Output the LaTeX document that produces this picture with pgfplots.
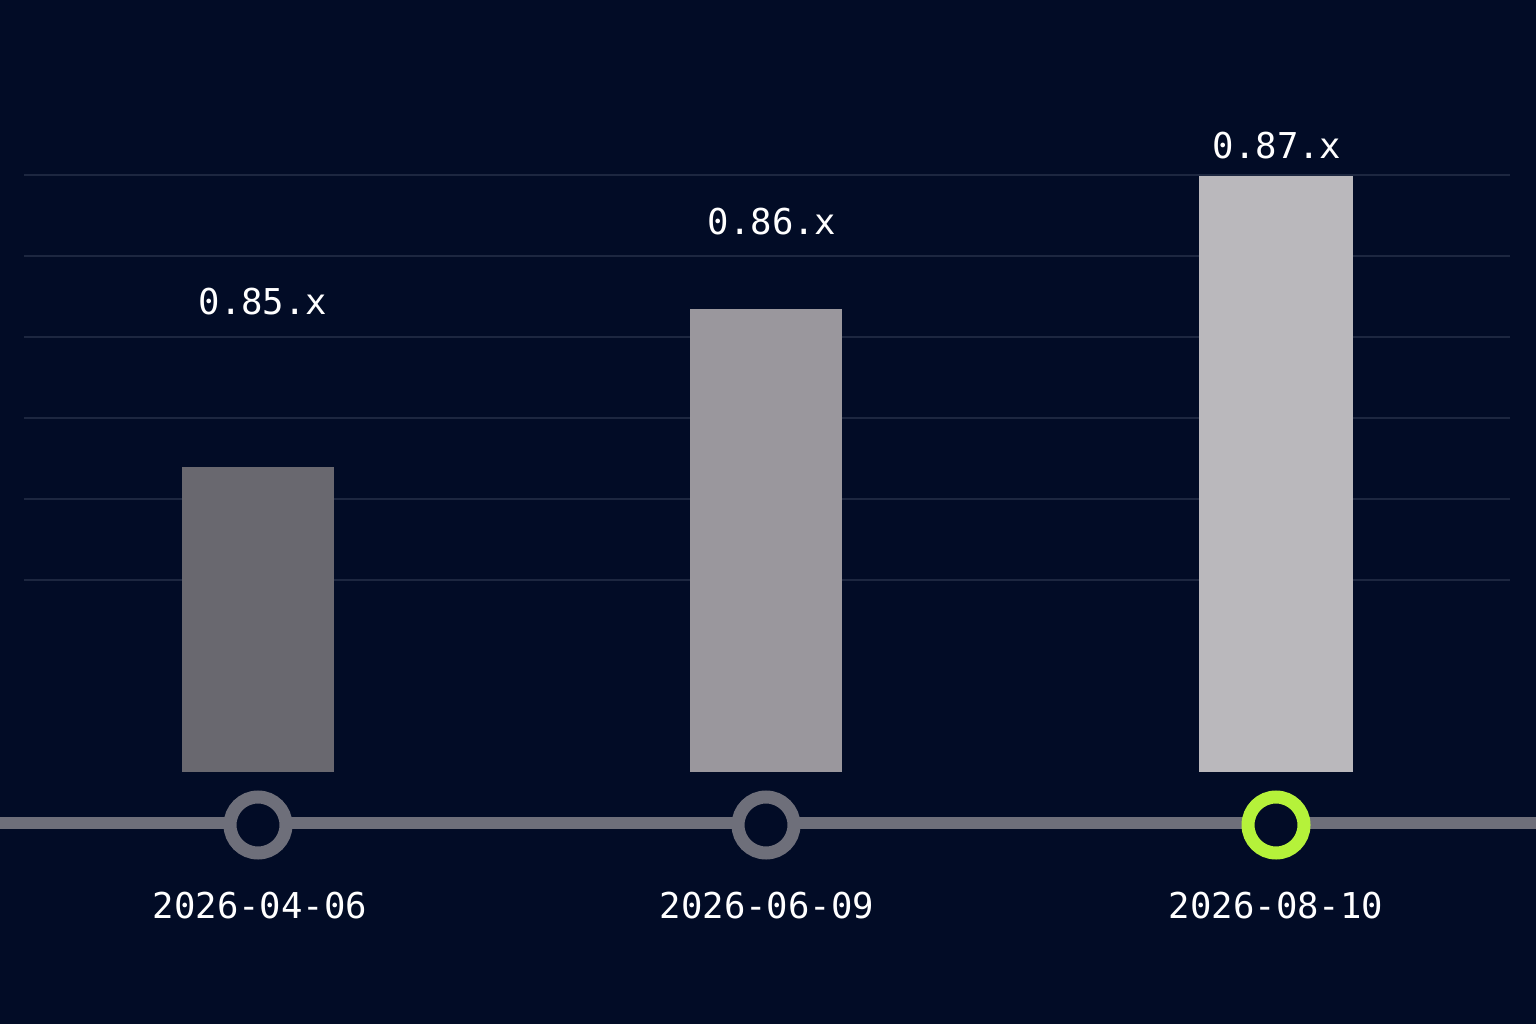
\documentclass[border=0pt]{standalone}
\usepackage{pgfplots}
\pgfplotsset{compat=1.18}
\usepackage{fontspec}
\setmonofont{DejaVu Sans Mono}
\definecolor{bgcol}{HTML}{020C26}
\definecolor{gridcol}{HTML}{1D2740}
\definecolor{barA}{HTML}{69686F}
\definecolor{barB}{HTML}{9A979D}
\definecolor{barC}{HTML}{BAB8BC}
\definecolor{linecol}{HTML}{6E6F7A}
\definecolor{accent}{HTML}{B5F23A}
\begin{document}
\begin{tikzpicture}
\begin{axis}[
  width=768pt, height=512pt, scale only axis,
  xmin=0, xmax=1536, ymin=-252, ymax=772,
  axis lines=none, ticks=none, clip=false,
  axis background/.style={fill=bgcol},
  unbounded coords=jump,
]
% gridlines
\addplot[gridcol, line width=1pt] coordinates {
 (24,192) (1510,192) (nan,nan)
 (24,273) (1510,273) (nan,nan)
 (24,354) (1510,354) (nan,nan)
 (24,435) (1510,435) (nan,nan)
 (24,516) (1510,516) (nan,nan)
 (24,597) (1510,597)
};
% bars
\addplot[ybar, bar width=152, bar shift=0pt, fill=barA, draw=none] coordinates {(258,305)};
\addplot[ybar, bar width=152, bar shift=0pt, fill=barB, draw=none] coordinates {(766,463)};
\addplot[ybar, bar width=154, bar shift=0pt, fill=barC, draw=none] coordinates {(1276,596)};
% timeline
\addplot[linecol, line width=5.8pt] coordinates {(0,-51) (1536,-51)};
\addplot[only marks, mark=*, mark size=14pt, mark options={draw=linecol, fill=bgcol, line width=6.5pt}] coordinates {(258,-53) (766,-53)};
\addplot[only marks, mark=*, mark size=14pt, mark options={draw=accent, fill=bgcol, line width=6.5pt}] coordinates {(1276,-53)};
% value labels
\addplot[draw=none, mark=none, nodes near coords, point meta=explicit symbolic,
  every node near coord/.style={anchor=center, text=white, font=\ttfamily\fontsize{17.8}{20}\selectfont}]
  table[meta=label] {
x y label
263 470 0.85.x
772 550 0.86.x
1277 626 0.87.x
};
% date labels
\addplot[draw=none, mark=none, nodes near coords, point meta=explicit symbolic,
  every node near coord/.style={anchor=center, text=white, font=\ttfamily\fontsize{17.8}{20}\selectfont}]
  table[meta=label] {
x y label
260 -134 2026-04-06
767 -134 2026-06-09
1276 -134 2026-08-10
};
\end{axis}
\pgfresetboundingbox
\useasboundingbox (current axis.south west) rectangle (current axis.north east);
\end{tikzpicture}
\end{document}
